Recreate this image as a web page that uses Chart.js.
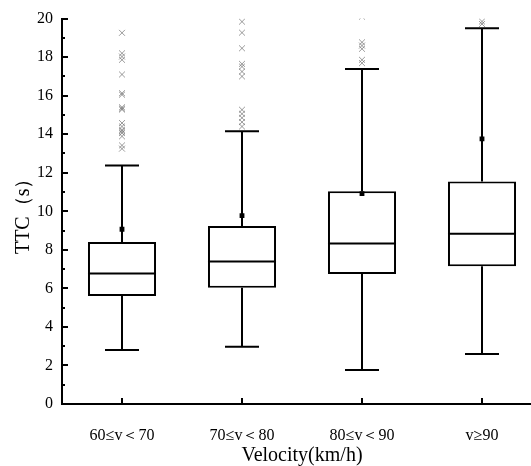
<!DOCTYPE html>
<html>
<head>
<meta charset="utf-8">
<script src="https://cdn.jsdelivr.net/npm/chart.js@4/dist/chart.umd.min.js"></script>
<style>
  html, body { margin: 0; padding: 0; background: #fff; overflow: hidden; }
  #wrap { width: 560px; height: 466px; }
</style>
</head>
<body>
<div id="wrap"><canvas id="chart1" width="560" height="466"></canvas></div>
<script>
const categories = ['60≤v＜70', '70≤v＜80', '80≤v＜90', 'v≥90'];
const q1 = [5.61, 6.03, 6.74, 7.15];
const median = [6.77, 7.39, 8.33, 8.84];
const q3 = [8.41, 9.24, 11.04, 11.54];
const whiskerLow = [2.80, 2.97, 1.76, 2.59];
const whiskerHigh = [12.38, 14.15, 17.39, 19.5];
const mean = [9.07, 9.78, 10.92, 13.76];
const outliers = [
  [19.26, 18.2, 18.03, 17.86, 17.1, 16.13, 16.05, 15.4, 15.33, 15.28, 14.58, 14.4, 14.23, 14.15, 14.06, 13.89, 13.42, 13.25],
  [19.84, 19.27, 18.46, 17.65, 17.51, 17.25, 17.0, 15.27, 15.06, 14.85, 14.63, 14.4],
  [20.1, 18.77, 18.6, 18.43, 17.86, 17.69],
  [19.72, 19.85]
];
const yTicks = [0, 2, 4, 6, 8, 10, 12, 14, 16, 18, 20];

const font = 'Liberation Serif, Times New Roman, serif';

const outlierPoints = [];
outliers.forEach((list, i) => list.forEach((v) => outlierPoints.push({ x: categories[i], y: v })));

const boxPlugin = {
  id: 'boxParts',
  afterDatasetDraw(chart, args) {
    if (args.index !== 0) return;
    const { ctx, scales: { x, y } } = chart;
    const meta = chart.getDatasetMeta(0);
    ctx.save();
    ctx.strokeStyle = '#000';
    ctx.lineWidth = 2;
    categories.forEach((c, i) => {
      const cx = x.getPixelForValue(i);
      const half = meta.data[i].width / 2;
      const cap = 17;
      ctx.beginPath();
      // median
      ctx.moveTo(cx - half, y.getPixelForValue(median[i]));
      ctx.lineTo(cx + half, y.getPixelForValue(median[i]));
      // whiskers + caps
      ctx.moveTo(cx, y.getPixelForValue(q3[i]));
      ctx.lineTo(cx, y.getPixelForValue(whiskerHigh[i]));
      ctx.moveTo(cx, y.getPixelForValue(q1[i]));
      ctx.lineTo(cx, y.getPixelForValue(whiskerLow[i]));
      ctx.moveTo(cx - cap, y.getPixelForValue(whiskerHigh[i]));
      ctx.lineTo(cx + cap, y.getPixelForValue(whiskerHigh[i]));
      ctx.moveTo(cx - cap, y.getPixelForValue(whiskerLow[i]));
      ctx.lineTo(cx + cap, y.getPixelForValue(whiskerLow[i]));
      ctx.stroke();
    });
    ctx.restore();
  },
  afterDraw(chart) {
    // inward tick marks
    const { ctx, scales: { x, y } } = chart;
    ctx.save();
    ctx.strokeStyle = '#000';
    ctx.lineWidth = 2;
    ctx.beginPath();
    for (let v = 0; v <= 20; v++) {
      const py = Math.round(y.getPixelForValue(v));
      const len = v % 2 === 0 ? 6 : 3;
      ctx.moveTo(x.left, py);
      ctx.lineTo(x.left + len, py);
    }
    categories.forEach((c, i) => {
      const px = Math.round(x.getPixelForValue(i));
      ctx.moveTo(px, y.bottom);
      ctx.lineTo(px, y.bottom - 6);
    });
    ctx.stroke();
    ctx.restore();
  }
};

new Chart(document.getElementById('chart1'), {
  type: 'bar',
  data: {
    labels: categories,
    datasets: [
      {
        data: q1.map((v, i) => [v, q3[i]]),
        backgroundColor: '#fff',
        borderColor: '#000',
        borderWidth: 2,
        borderSkipped: false,
        categoryPercentage: 1,
        barPercentage: 0.567,
        order: 3
      },
      {
        type: 'line',
        data: categories.map((c, i) => ({ x: c, y: mean[i] })),
        showLine: false,
        pointStyle: 'rect',
        pointRadius: 3.4,
        backgroundColor: '#000',
        borderColor: '#000',
        borderWidth: 0,
        order: 2
      },
      {
        type: 'line',
        data: outlierPoints,
        showLine: false,
        pointStyle: 'crossRot',
        pointRadius: 4.2,
        borderColor: 'rgba(90,90,90,0.6)',
        borderWidth: 1,
        order: 1
      }
    ]
  },
  options: {
    responsive: false,
    animation: false,
    devicePixelRatio: 1,
    layout: { padding: { top: 18, right: 18, left: 0, bottom: 0 } },
    plugins: { legend: { display: false }, tooltip: { enabled: false } },
    scales: {
      x: {
        offset: true,
        grid: { display: false, drawTicks: false },
        border: { display: true, color: '#000', width: 2 },
        ticks: { color: '#000', font: { family: font, size: 16 }, padding: 22, maxRotation: 0 },
        title: { display: true, text: 'Velocity(km/h)', color: '#000', font: { family: font, size: 20, lineHeight: 1 }, padding: 0 },
        afterFit: (s) => { s.height = 62; }
      },
      y: {
        min: 0,
        max: 20,
        afterBuildTicks: (s) => { s.ticks = yTicks.map((v) => ({ value: v })); },
        grid: { display: false, drawTicks: false },
        border: { display: true, color: '#000', width: 2 },
        ticks: { color: '#000', font: { family: font, size: 16 }, padding: 9 },
        title: { display: true, text: 'TTC（s）', color: '#000', font: { family: font, size: 20 }, padding: 12 },
        afterFit: (s) => { s.width = 62; }
      }
    }
  },
  plugins: [boxPlugin]
});
</script>
</body>
</html>
